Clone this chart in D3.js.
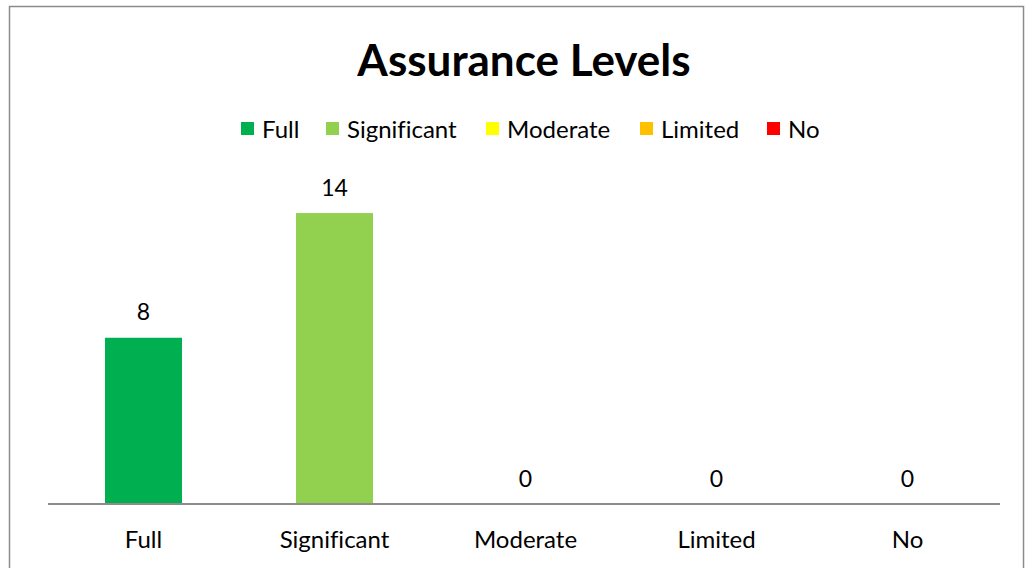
<!DOCTYPE html>
<html><head><meta charset="utf-8">
<script src="https://cdn.jsdelivr.net/npm/d3@7"></script>
<style>body{margin:0;background:#fff}svg{display:block}text{font-family:Lato,"Open Sans",sans-serif;font-variant-ligatures:none;font-feature-settings:"liga" 0}</style>
</head><body><svg id="c" width="1029" height="568"></svg>
<script>
const categories = ["Full","Significant","Moderate","Limited","No"];
const values = [8,14,0,0,0];
const colors = ["#00B050","#92D050","#FFFF00","#FFC000","#FF0000"];
const title = "Assurance Levels";

const svg = d3.select("#c");
svg.append("rect").attr("x",9.5).attr("y",6.5).attr("width",1014).attr("height",580)
  .attr("fill","#fff").attr("stroke","#8c8c8c").attr("stroke-width",1.5);

const x = d3.scaleBand().domain(categories).range([48,1003]).paddingInner(0.597).paddingOuter(0.2985);
const y = d3.scaleLinear().domain([0,16]).range([504,171.5]);

svg.append("text").attr("x",524).attr("y",76).attr("text-anchor","middle")
  .attr("font-size",44).attr("font-weight","bold").attr("fill","#000").text(title);

// legend
const legendX = [241,326,486,640,767];
const lg = svg.append("g");
categories.forEach((c,i)=>{
  lg.append("rect").attr("x",legendX[i]).attr("y",122).attr("width",13).attr("height",13).attr("fill",colors[i]);
  lg.append("text").attr("x",legendX[i]+21).attr("y",137.5).attr("font-size",24).attr("fill","#000").text(c);
});

svg.selectAll("rect.bar").data(values).join("rect").attr("class","bar")
  .attr("x",(d,i)=>x(categories[i])).attr("width",x.bandwidth())
  .attr("y",d=>y(d)).attr("height",d=>y(0)-y(d)).attr("fill",(d,i)=>colors[i]);

svg.selectAll("text.val").data(values).join("text").attr("class","val")
  .attr("x",(d,i)=>x(categories[i])+x.bandwidth()/2).attr("y",d=>y(d)-17.5)
  .attr("text-anchor","middle").attr("font-size",23).attr("fill","#000").text(d=>d);

const ax = svg.append("g").attr("transform","translate(0,504)")
  .call(d3.axisBottom(x).tickSize(0).tickPadding(26.5));
ax.select(".domain").attr("stroke","#8c8c8c").attr("stroke-width",2).attr("d","M48,0H1000");
ax.selectAll("text").attr("font-size",24).attr("fill","#000").style("font-family","Lato,'Open Sans',sans-serif");
</script></body></html>
